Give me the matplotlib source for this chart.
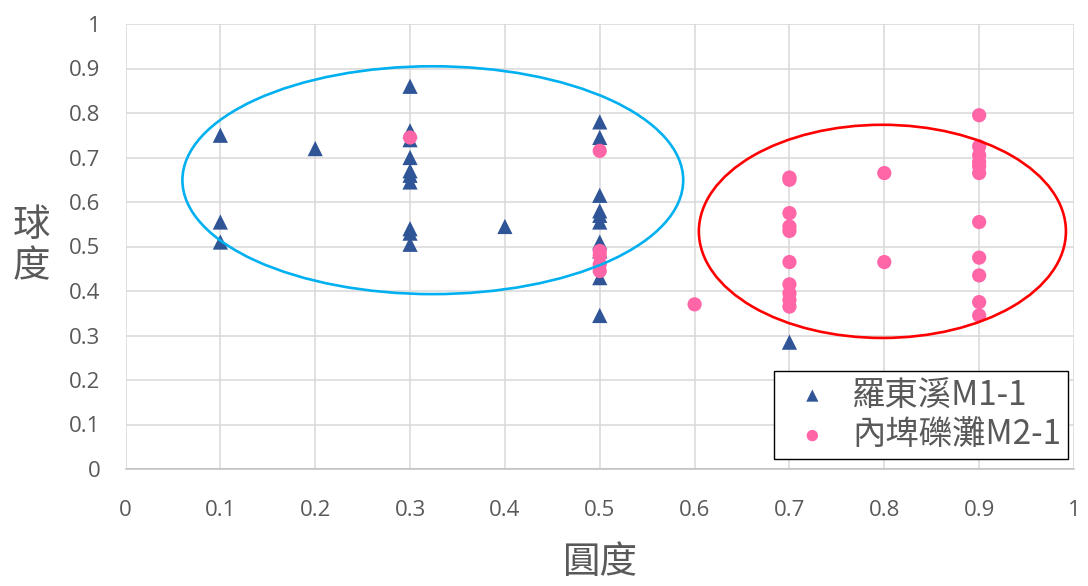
import matplotlib
matplotlib.use("Agg")
import matplotlib.pyplot as plt
from matplotlib.patches import Ellipse

# ---- data ----
luodong_x = [0.1, 0.1, 0.1, 0.2,
             0.3, 0.3, 0.3, 0.3, 0.3, 0.3, 0.3, 0.3, 0.3, 0.3,
             0.4,
             0.5, 0.5, 0.5, 0.5, 0.5, 0.5, 0.5, 0.5, 0.5, 0.5,
             0.7]
luodong_y = [0.75, 0.555, 0.51, 0.72,
             0.86, 0.76, 0.74, 0.70, 0.67, 0.66, 0.645, 0.54, 0.53, 0.505,
             0.545,
             0.78, 0.745, 0.615, 0.58, 0.57, 0.555, 0.51, 0.49, 0.43, 0.345,
             0.285]
neipi_x = [0.3,
           0.5, 0.5, 0.5, 0.5, 0.5,
           0.6,
           0.7, 0.7, 0.7, 0.7, 0.7, 0.7, 0.7, 0.7, 0.7, 0.7,
           0.8, 0.8,
           0.9, 0.9, 0.9, 0.9, 0.9, 0.9, 0.9, 0.9, 0.9, 0.9, 0.9]
neipi_y = [0.745,
           0.715, 0.49, 0.48, 0.46, 0.445,
           0.37,
           0.655, 0.65, 0.575, 0.545, 0.535, 0.465, 0.415, 0.395, 0.38, 0.365,
           0.665, 0.465,
           0.795, 0.725, 0.705, 0.69, 0.68, 0.665, 0.555, 0.475, 0.435, 0.375, 0.345]
series_names = ["羅東溪M1-1", "內埤礫灘M2-1"]
ticks = [0, 0.1, 0.2, 0.3, 0.4, 0.5, 0.6, 0.7, 0.8, 0.9, 1]
tick_labels = ["0", "0.1", "0.2", "0.3", "0.4", "0.5", "0.6", "0.7", "0.8", "0.9", "1"]
x_label = "圓度"
y_label = "球度"
# annotation ellipses: (center x, center y, width, height, colour)
ellipses = [(0.324, 0.649, 0.528, 0.512, "#00B0F0"),
            (0.798, 0.534, 0.387, 0.479, "#FF0000")]

CJK = ["Noto Sans CJK TC", "DejaVu Sans"]
TICK_FONT = ["Open Sans", "DejaVu Sans"]

fig = plt.figure(figsize=(10.88, 5.86), dpi=100)
ax = fig.add_axes([125.5 / 1088, 1 - 469 / 586, (1074 - 125.5) / 1088, (469 - 24) / 586])

ax.set_xlim(0, 1)
ax.set_ylim(0, 1)
ax.set_xticks(ticks)
ax.set_yticks(ticks)
ax.set_xticklabels(tick_labels, fontfamily=TICK_FONT, fontsize=16, color="#595959")
ax.set_yticklabels(tick_labels, fontfamily=TICK_FONT, fontsize=16, color="#595959")
ax.tick_params(axis="x", length=0, pad=22)
ax.tick_params(axis="y", length=0, pad=18)
ax.grid(True, color="#d9d9d9", linewidth=1.1)
ax.set_axisbelow(True)
for s in ["top", "right", "left"]:
    ax.spines[s].set_visible(False)
ax.spines["bottom"].set_color("#bfbfbf")
ax.spines["bottom"].set_linewidth(1.1)

ax.scatter(luodong_x, luodong_y, marker="^", s=120, color="#2F5597",
           edgecolors="none", label=series_names[0], zorder=3)
ax.scatter(neipi_x, neipi_y, marker="o", s=105, color="#FF66A8",
           edgecolors="none", label=series_names[1], zorder=4)

for cx, cy, w, h, c in ellipses:
    ax.add_patch(Ellipse((cx, cy), w, h, fill=False, edgecolor=c,
                         linewidth=1.9, zorder=5, clip_on=False))

leg = ax.legend(loc="lower right", bbox_to_anchor=((1068 - 125.5) / (1074 - 125.5), (469 - 459) / 445),
                prop={"family": CJK, "size": 24}, frameon=True, fancybox=False,
                edgecolor="black", framealpha=1, handletextpad=0.25,
                borderpad=0.2, labelspacing=0.15, markerscale=0.8, handlelength=1.9,
                borderaxespad=0)
leg.get_frame().set_linewidth(1.0)
for t in leg.get_texts():
    t.set_color("#595959")

fig.text(600 / 1088, 1 - 563 / 586, x_label, fontfamily=CJK, fontsize=27,
         color="#595959", ha="center", va="center")
fig.text(31 / 1088, 1 - 246 / 586, "\n".join(y_label), fontfamily=CJK, fontsize=27,
         color="#595959", ha="center", va="center", linespacing=1.05)

fig.savefig("out.png", dpi=100)
